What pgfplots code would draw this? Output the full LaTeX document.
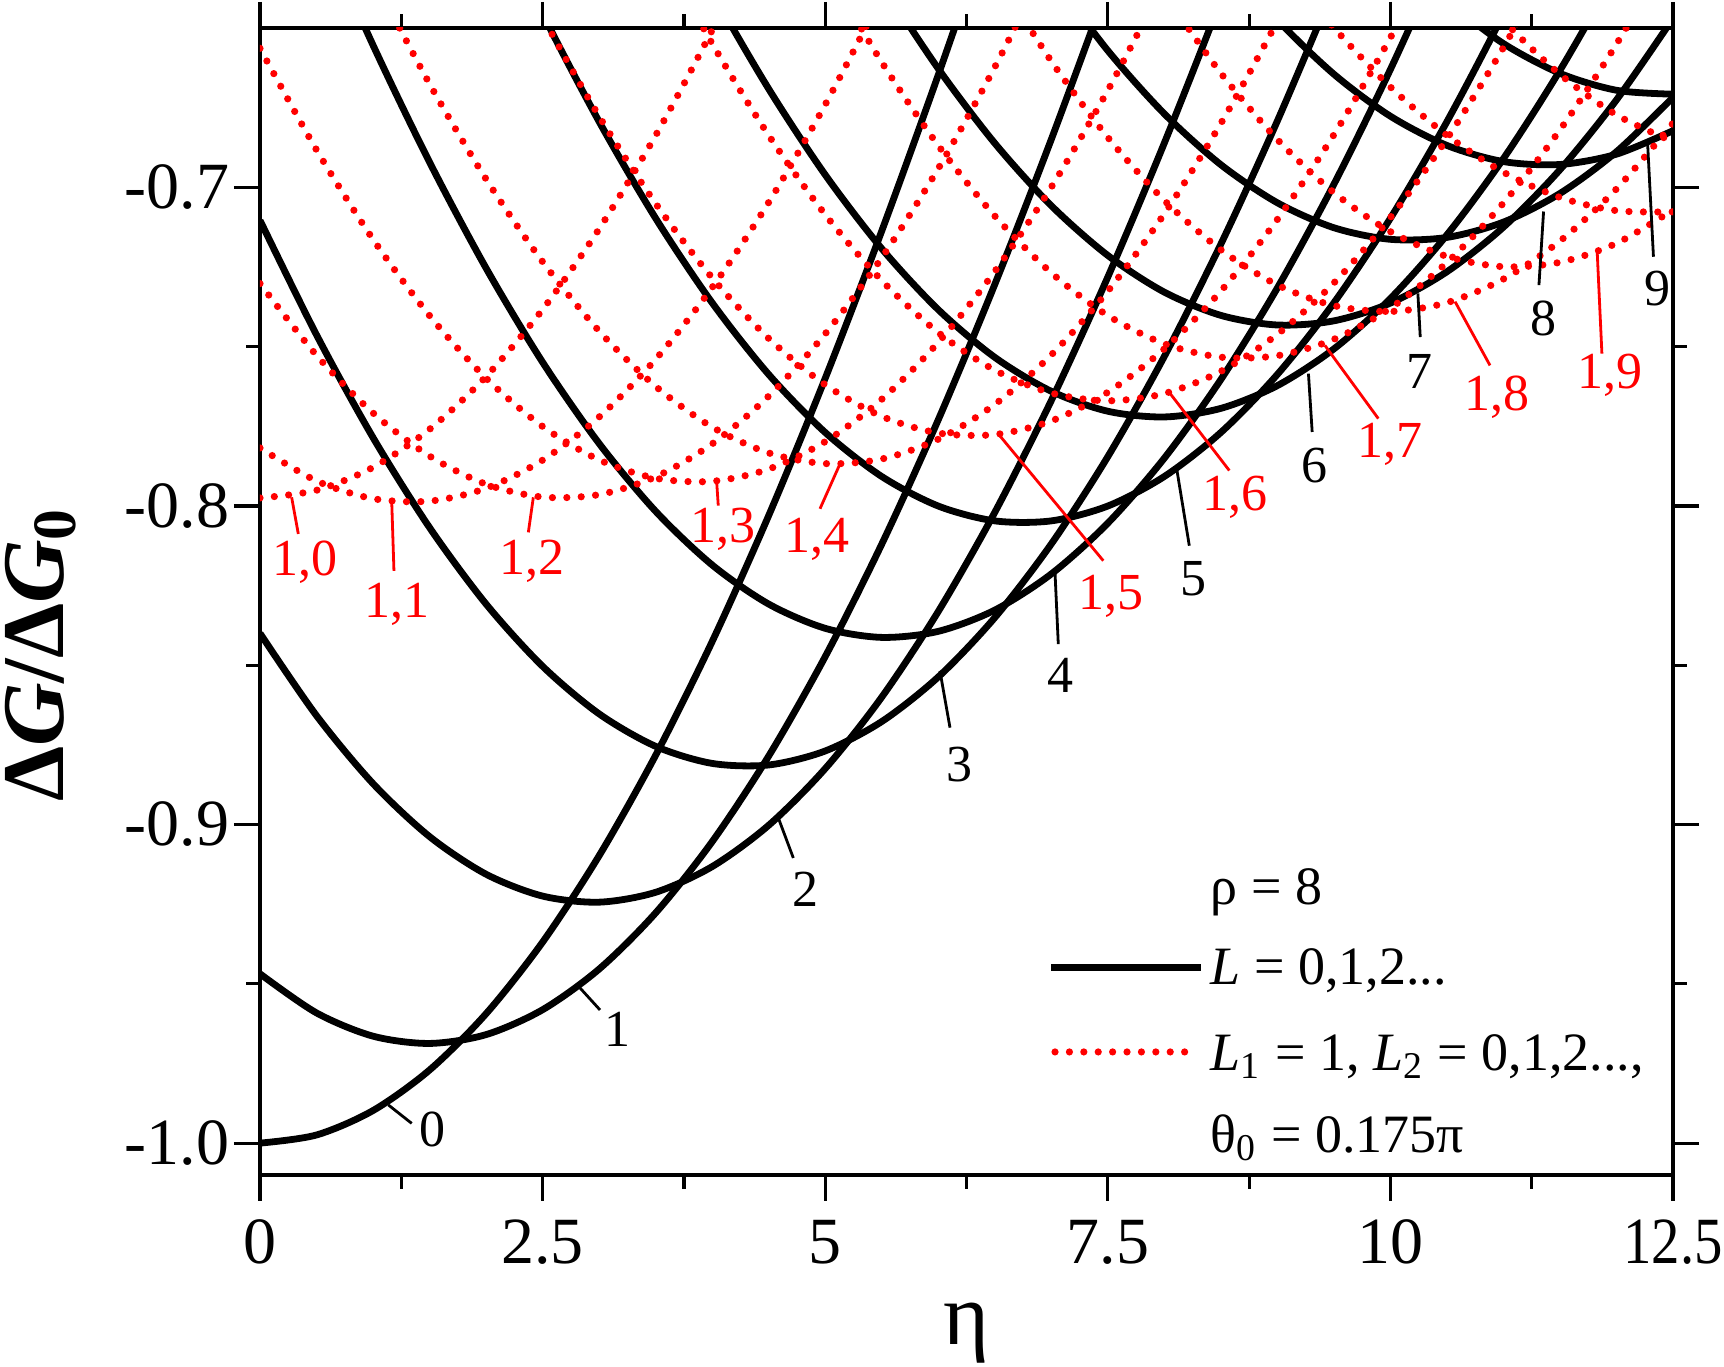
\documentclass[border=0pt]{standalone}
\usepackage{fontspec}
\setmainfont{Liberation Serif}
\usepackage{graphicx}
\usepackage{pgfplots}
\pgfplotsset{compat=1.18}

\tikzset{
  lb/.style={font=\fontsize{13}{14}\selectfont, anchor=base, inner sep=0pt},
  lr/.style={lb, text=red},
}
\pgfplotsset{
  blk/.style={black, line width=1.7pt, smooth, forget plot},
  dot/.style={red, line width=1.8pt, dash pattern=on 0pt off 3.6pt, line cap=round, smooth, forget plot},
  ldr/.style={line width=0.7pt, forget plot},
  short legend/.style={legend image code/.code={\draw[##1] (0.9pt,4.6pt) -- (34pt,4.6pt);}},
}

\begin{document}
\begin{tikzpicture}
\path[use as bounding box] (-65pt,-48pt) rectangle (366pt,293.75pt);
\begin{axis}[
  at={(0pt,0pt)}, anchor=south west,
  scale only axis, width=353.25pt, height=286.75pt,
  xmin=0, xmax=12.5, ymin=-1.01, ymax=-0.65,
  xtick={0,2.5,5,7.5,10,12.5},
  xticklabels={0,2.5,5,7.5,10,\scalebox{0.86}[1]{12.5}},
  ytick={-1,-0.9,-0.8,-0.7}, yticklabels={-1.0,-0.9,-0.8,-0.7},
  minor x tick num=1, minor y tick num=1,
  tick align=outside, major tick length=6.5pt, minor tick length=3.4pt,
  every tick/.append style={black, line width=0.8pt},
  axis line style={line width=0.8pt},
  ticklabel style={font=\fontsize{16.5}{18}\selectfont},
  yticklabel style={inner sep=0pt, xshift=-1pt},
  xticklabel style={inner sep=0pt, yshift=-4.5pt},
  xlabel={η},
  ylabel={\textbf{Δ\textit{G}/Δ\textit{G}\textsubscript{0}}},
  xlabel style={font=\fontsize{22}{24}\selectfont, at={(axis description cs:0.5,-0.1107)}, anchor=north, inner sep=0pt},
  ylabel style={font=\fontsize{22}{24}\selectfont, at={(axis description cs:-0.1394,0.4537)}, anchor=base, inner sep=0pt},
  legend cell align=left,
  legend image code/.code={\draw[#1] (0pt,4.3pt) -- (37.5pt,4.3pt);},
  legend style={at={(axis description cs:0.5577,0.2738)}, anchor=north west,
    draw=none, fill=none, inner sep=0pt, outer sep=0pt,
    row sep=5.35pt, column sep=-0.5pt,
    font=\fontsize{13.5}{15}\selectfont,
    cells={anchor=base west, inner sep=0pt, text height=9pt, text depth=3pt}},
]

% ---- L = 0,1,2,... (solid black)
\addplot[blk] coordinates {(0,-1.0000) (0.5,-0.99744) (1,-0.98977) (1.5,-0.97705) (2,-0.95938) (2.5,-0.93691) (3,-0.90979) (3.5,-0.87827) (4,-0.84258) (4.5,-0.80303) (5,-0.75995) (5.5,-0.71372) (6,-0.66475) (6.5,-0.61350)};
\addplot[blk] coordinates {(0,-0.94686) (0.5,-0.95913) (1,-0.96643) (1.5,-0.96871) (2,-0.96594) (2.5,-0.95813) (3,-0.94537) (3.5,-0.92774) (4,-0.90539) (4.5,-0.87851) (5,-0.84730) (5.5,-0.81202) (6,-0.77298) (6.5,-0.73049) (7,-0.68497) (7.5,-0.63682)};
\addplot[blk] coordinates {(0,-0.84000) (0.5,-0.86583) (1,-0.88716) (1.5,-0.90379) (2,-0.91560) (2.5,-0.92246) (3,-0.92437) (3.5,-0.92127) (4,-0.91321) (4.5,-0.90024) (5,-0.88245) (5.5,-0.86003) (6,-0.83315) (6.5,-0.80203) (7,-0.76694) (7.5,-0.72817) (8,-0.68611) (8.5,-0.64114) (9,-0.59367)};
\addplot[blk] coordinates {(0,-0.71038) (0.5,-0.74632) (1,-0.77856) (1.5,-0.80680) (2,-0.83080) (2.5,-0.85034) (3,-0.86527) (3.5,-0.87546) (4,-0.88082) (4.5,-0.88131) (5,-0.87692) (5.5,-0.86769) (6,-0.85370) (6.5,-0.83507) (7,-0.81195) (7.5,-0.78454) (8,-0.75308) (8.5,-0.71785) (9,-0.67917) (9.5,-0.63741)};
\addplot[blk] coordinates {(0.5,-0.61561) (1,-0.65540) (1.5,-0.69211) (2,-0.72538) (2.5,-0.75490) (3,-0.78041) (3.5,-0.80169) (4,-0.81854) (4.5,-0.83081) (5,-0.83842) (5.5,-0.84127) (6,-0.83937) (6.5,-0.83271) (7,-0.82136) (7.5,-0.80542) (8,-0.78501) (8.5,-0.76033) (9,-0.73159) (9.5,-0.69905) (10,-0.66300) (10.5,-0.62380)};
\addplot[blk] coordinates {(2,-0.60848) (2.5,-0.64553) (3,-0.67939) (3.5,-0.70972) (4,-0.73625) (4.5,-0.75873) (5,-0.77695) (5.5,-0.79077) (6,-0.80004) (6.5,-0.80470) (7,-0.80470) (7.5,-0.80004) (8,-0.79077) (8.5,-0.77695) (9,-0.75873) (9.5,-0.73625) (10,-0.70972) (10.5,-0.67939) (11,-0.64553) (11.5,-0.60848)};
\addplot[blk] coordinates {(3.5,-0.60482) (4,-0.63859) (4.5,-0.66911) (5,-0.69607) (5.5,-0.71924) (6,-0.73840) (6.5,-0.75337) (7,-0.76403) (7.5,-0.77029) (8,-0.77208) (8.5,-0.76939) (9,-0.76225) (9.5,-0.75072) (10,-0.73490) (10.5,-0.71492) (11,-0.69098) (11.5,-0.66328) (12,-0.63209) (12.5,-0.59770)};
\addplot[blk] coordinates {(5,-0.60544) (5.5,-0.63577) (6,-0.66276) (6.5,-0.68616) (7,-0.70577) (7.5,-0.72139) (8,-0.73291) (8.5,-0.74020) (9,-0.74322) (9.5,-0.74192) (10,-0.73634) (10.5,-0.72650) (11,-0.71250) (11.5,-0.69447) (12,-0.67256) (12.5,-0.64698)};
\addplot[blk] coordinates {(7,-0.63355) (7.5,-0.65709) (8,-0.67693) (8.5,-0.69291) (9,-0.70486) (9.5,-0.71269) (10,-0.71633) (10.5,-0.71573) (11,-0.71092) (11.5,-0.70193) (12,-0.68883) (12.5,-0.67176)};
\addplot[blk] coordinates {(8.5,-0.62658) (9,-0.64741) (9.5,-0.66450) (10,-0.67769) (10.5,-0.68686) (11,-0.69193) (11.5,-0.69284) (12,-0.68960) (12.5,-0.68223)};
\addplot[blk] coordinates {(10.5,-0.64162) (11,-0.65490) (11.5,-0.66424) (12,-0.66955) (12.5,-0.67078)};

% ---- L1 = 1, L2 = 0,1,2,... (red dotted)
\addplot[dot] coordinates {(0,-0.79750) (0.5,-0.79509) (1,-0.78789) (1.5,-0.77595) (2,-0.75939) (2.5,-0.73836) (3,-0.71306) (3.5,-0.68373) (4,-0.65065) (4.5,-0.61415)};
\addplot[dot] coordinates {(0,-0.78181) (0.5,-0.79215) (1,-0.79773) (1.5,-0.79850) (2,-0.79447) (2.5,-0.78563) (3,-0.77210) (3.5,-0.75398) (4,-0.73145) (4.5,-0.70474) (5,-0.67407) (5.5,-0.63976) (6,-0.60214)};
\addplot[dot] coordinates {(0,-0.73022) (0.5,-0.75273) (1,-0.77083) (1.5,-0.78436) (2,-0.79319) (2.5,-0.79722) (3,-0.79645) (3.5,-0.79087) (4,-0.78054) (4.5,-0.76554) (5,-0.74600) (5.5,-0.72213) (6,-0.69414) (6.5,-0.66230) (7,-0.62693)};
\addplot[dot] coordinates {(0,-0.65639) (0.5,-0.68827) (1,-0.71633) (1.5,-0.74029) (2,-0.75993) (2.5,-0.77507) (3,-0.78556) (3.5,-0.79132) (4,-0.79228) (4.5,-0.78844) (5,-0.77983) (5.5,-0.76654) (6,-0.74868) (6.5,-0.72642) (7,-0.69997) (7.5,-0.66958) (8,-0.63556)};
\addplot[dot] coordinates {(1,-0.63401) (1.5,-0.66755) (2,-0.69744) (2.5,-0.72338) (3,-0.74513) (3.5,-0.76248) (4,-0.77526) (4.5,-0.78337) (5,-0.78672) (5.5,-0.78528) (6,-0.77907) (6.5,-0.76815) (7,-0.75261) (7.5,-0.73260) (8,-0.70831) (8.5,-0.67996) (9,-0.64785) (9.5,-0.61228)};
\addplot[dot] coordinates {(2,-0.61182) (2.5,-0.64651) (3,-0.67771) (3.5,-0.70510) (4,-0.72841) (4.5,-0.74743) (5,-0.76197) (5.5,-0.77190) (6,-0.77713) (6.5,-0.77761) (7,-0.77333) (7.5,-0.76433) (8,-0.75070) (8.5,-0.73257) (9,-0.71009) (9.5,-0.68350) (10,-0.65304) (10.5,-0.61902)};
\addplot[dot] coordinates {(3.5,-0.62246) (4,-0.65490) (4.5,-0.68371) (5,-0.70858) (5.5,-0.72926) (6,-0.74560) (6.5,-0.75739) (7,-0.76456) (7.5,-0.76701) (8,-0.76473) (8.5,-0.75777) (9,-0.74615) (9.5,-0.73002) (10,-0.70949) (10.5,-0.68477) (11,-0.65613) (11.5,-0.62381)};
\addplot[dot] coordinates {(5,-0.63080) (5.5,-0.66074) (6,-0.68689) (6.5,-0.70900) (7,-0.72684) (7.5,-0.74025) (8,-0.74911) (8.5,-0.75332) (9,-0.75285) (9.5,-0.74771) (10,-0.73793) (10.5,-0.72362) (11,-0.70491) (11.5,-0.68198) (12,-0.65505) (12.5,-0.62438)};
\addplot[dot] coordinates {(6.5,-0.63263) (7,-0.66042) (7.5,-0.68433) (8,-0.70412) (8.5,-0.71961) (9,-0.73065) (9.5,-0.73713) (10,-0.73898) (10.5,-0.73620) (11,-0.72880) (11.5,-0.71687) (12,-0.70050) (12.5,-0.67987)};
\addplot[dot] coordinates {(8,-0.63933) (8.5,-0.66418) (9,-0.68502) (9.5,-0.70166) (10,-0.71392) (10.5,-0.72170) (11,-0.72492) (11.5,-0.72354) (12,-0.71758) (12.5,-0.70710)};
\addplot[dot] coordinates {(9,-0.62795) (9.5,-0.64988) (10,-0.66852) (10.5,-0.68368) (11,-0.69527) (11.5,-0.70317) (12,-0.70733) (12.5,-0.70770)};
\addplot[dot] coordinates {(10.5,-0.62655) (11,-0.64757) (11.5,-0.66455) (12,-0.67728) (12.5,-0.68567)};

% ---- leader lines
\addplot[ldr, black] coordinates {(1.135,-0.9880) (1.342,-0.9938)};
\addplot[ldr, black] coordinates {(2.831,-0.9513) (3.008,-0.9582)};
\addplot[ldr, black] coordinates {(4.585,-0.8979) (4.718,-0.9105)};
\addplot[ldr, black] coordinates {(6.015,-0.8518) (6.104,-0.8696)};
\addplot[ldr, black] coordinates {(7.033,-0.8209) (7.062,-0.8434)};
\addplot[ldr, black] coordinates {(8.112,-0.7889) (8.221,-0.8125)};
\addplot[ldr, black] coordinates {(9.275,-0.7585) (9.308,-0.7768)};
\addplot[ldr, black] coordinates {(10.243,-0.7333) (10.264,-0.7470)};
\addplot[ldr, black] coordinates {(11.355,-0.7076) (11.314,-0.7307)};
\addplot[ldr, black] coordinates {(12.276,-0.6867) (12.327,-0.7218)};
\addplot[ldr, red] coordinates {(0.280,-0.7973) (0.339,-0.8088)};
\addplot[ldr, red] coordinates {(1.165,-0.7983) (1.185,-0.8204)};
\addplot[ldr, red] coordinates {(2.418,-0.7973) (2.374,-0.8083)};
\addplot[ldr, red] coordinates {(4.040,-0.7925) (4.054,-0.7999)};
\addplot[ldr, red] coordinates {(5.131,-0.7868) (4.954,-0.8009)};
\addplot[ldr, red] coordinates {(6.531,-0.7774) (7.460,-0.8172)};
\addplot[ldr, red] coordinates {(8.040,-0.7642) (8.575,-0.7889)};
\addplot[ldr, red] coordinates {(9.420,-0.7496) (9.893,-0.7726)};
\addplot[ldr, red] coordinates {(10.572,-0.7359) (10.881,-0.7559)};
\addplot[ldr, red] coordinates {(11.828,-0.7192) (11.871,-0.7522)};

% ---- curve labels
\node[lb] at (axis cs:1.528,-1.0012) {0};
\node[lb] at (axis cs:3.163,-0.9697) {1};
\node[lb] at (axis cs:4.828,-0.9257) {2};
\node[lb] at (axis cs:6.185,-0.8864) {3};
\node[lb] at (axis cs:7.084,-0.8586) {4};
\node[lb] at (axis cs:8.255,-0.8282) {5};
\node[lb] at (axis cs:9.329,-0.7925) {6};
\node[lb] at (axis cs:10.253,-0.7632) {7};
\node[lb] at (axis cs:11.354,-0.7464) {8};
\node[lb] at (axis cs:12.361,-0.7370) {9};
\node[lr] at (axis cs:0.398,-0.8219) {1,0};
\node[lr] at (axis cs:1.209,-0.8350) {1,1};
\node[lr] at (axis cs:2.403,-0.8214) {1,2};
\node[lr] at (axis cs:4.099,-0.8114) {1,3};
\node[lr] at (axis cs:4.925,-0.8146) {1,4};
\node[lr] at (axis cs:7.524,-0.8324) {1,5};
\node[lr] at (axis cs:8.622,-0.8015) {1,6};
\node[lr] at (axis cs:9.993,-0.7847) {1,7};
\node[lr] at (axis cs:10.947,-0.7700) {1,8};
\node[lr] at (axis cs:11.944,-0.7632) {1,9};

% ---- legend
\addlegendimage{empty legend}
\addlegendentry{ρ = 8}
\addlegendimage{black, line width=1.7pt}
\addlegendentry{\textit{L} = 0,1,2...}
\addlegendimage{red, line width=1.8pt, dash pattern=on 0pt off 3.6pt, line cap=round, short legend}
\addlegendentry[text height=10.65pt]{\textit{L}\textsubscript{1} = 1, \textit{L}\textsubscript{2} = 0,1,2...,}
\addlegendimage{empty legend}
\addlegendentry[text height=9.65pt]{θ\textsubscript{0} = 0.175π}
\end{axis}
\end{tikzpicture}
\end{document}
